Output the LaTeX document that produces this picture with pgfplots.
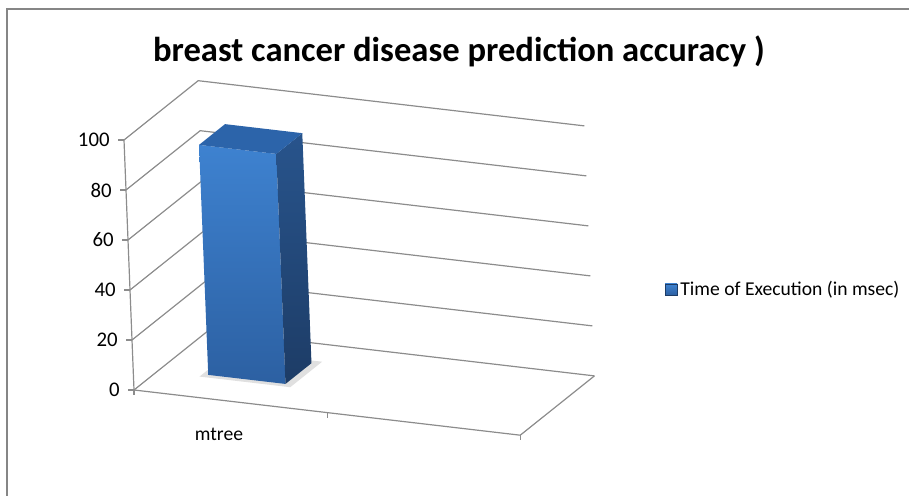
\documentclass[border=0pt]{standalone}
\usepackage{pgfplots}
\pgfplotsset{compat=1.18}
\usepackage{fontspec}
\setmainfont{Carlito}

\definecolor{gridgray}{RGB}{140,140,140}
\definecolor{frameGray}{RGB}{134,134,134}
\definecolor{frontTop}{RGB}{62,130,208}
\definecolor{frontBot}{RGB}{44,96,162}
\definecolor{sideTop}{RGB}{40,84,140}
\definecolor{sideBot}{RGB}{29,60,102}
\definecolor{topFace}{RGB}{44,100,170}

\begin{document}
\begin{tikzpicture}
% outer chart frame (only left and top edges fall inside the page)
\draw[frameGray, line width=1pt] (3.5pt,0pt) -- (3.5pt,243.5pt) -- (460pt,243.5pt);

% title
\node[anchor=base, font=\bfseries\fontsize{17.3}{20}\selectfont]
  at (229.5pt,217pt) {breast cancer disease prediction accuracy )};

\begin{axis}[
  anchor=origin, at={(67pt,53pt)},
  x={(96.56pt,-11.3pt)}, y={(37.1pt,29.65pt)}, z={(-0.05pt,1.25pt)},
  xmin=0, xmax=2, ymin=0, ymax=1, zmin=0, zmax=100,
  hide axis, clip=false,
]
% side wall and back wall grid lines
\pgfplotsinvokeforeach{0,20,...,100}{
  \addplot3[gridgray, line width=0.6pt] coordinates {(0,0,#1) (0,1,#1) (2,1,#1)};
  \draw[gridgray, line width=0.6pt] (axis cs:0,0,#1) -- ++(-3pt,0pt);
  \node[anchor=east, inner sep=0pt, font=\fontsize{10.4}{12}\selectfont]
    at (axis cs:0,0,#1) [xshift=-7pt] {#1};
}
% value axis, front floor edge and right floor edge
\addplot3[gridgray, line width=0.6pt] coordinates {(0,0,100) (0,0,0) (2,0,0) (2,1,0)};
\pgfplotsinvokeforeach{0,1,2}{
  \draw[gridgray, line width=0.6pt] (axis cs:#1,0,0) -- ++(0pt,-2.5pt);
}
% category label
\node[font=\fontsize{9.8}{11}\selectfont] at (axis cs:0.5,0,0) [xshift=-5.8pt, yshift=-16.4pt] {mtree};

% soft floor shadow
\addplot3[draw=none, fill=black, fill opacity=0.12] coordinates
  {(0.22,0.31,0) (0.69,0.31,0) (0.69,0.74,0) (0.22,0.74,0)};

% bar: mtree = 92
\addplot3[draw=none, top color=frontTop, bottom color=frontBot] coordinates
  {(0.25,0.35,0) (0.65,0.35,0) (0.65,0.35,92) (0.25,0.35,92)};
\addplot3[draw=none, top color=sideTop, bottom color=sideBot] coordinates
  {(0.65,0.35,0) (0.65,0.7,0) (0.65,0.7,92) (0.65,0.35,92)};
\addplot3[draw=none, fill=topFace] coordinates
  {(0.25,0.35,92) (0.65,0.35,92) (0.65,0.7,92) (0.25,0.7,92)};
\end{axis}

% legend
\shade[top color=frontTop, bottom color=frontBot, draw=sideBot, line width=0.3pt]
  (332.5pt,100.5pt) rectangle (338.5pt,106pt);
\node[anchor=west, inner sep=0pt, font=\fontsize{9.8}{11}\selectfont]
  at (340pt,103.25pt) {Time of Execution (in msec)};

\pgfresetboundingbox
\useasboundingbox (0pt,0pt) rectangle (454.5pt,248pt);
\end{tikzpicture}
\end{document}
